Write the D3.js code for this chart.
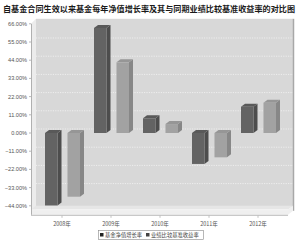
<!DOCTYPE html>
<html><head><meta charset="utf-8">
<script src="https://cdn.jsdelivr.net/npm/d3@7"></script>
<style>html,body{margin:0;padding:0;background:#fff;}svg{display:block;}</style>
</head><body>
<script>
const title = "自基金合同生效以来基金每年净值增长率及其与同期业绩比较基准收益率的对比图";
const categories = ["2008年", "2009年", "2010年", "2011年", "2012年"];
const seriesNames = ["基金净值增长率", "业绩比较基准收益率"];
const fundGrowth = [-43.8, 63.5, 8.9, -18.7, 15.9];
const benchmarkReturn = [-38.5, 42.7, 5.4, -14.7, 18.3];
const yTicks = [66, 55, 44, 33, 22, 11, 0, -11, -22, -33, -44];

(function () {
const W = 300, H = 244;
const svg = d3.select("body").append("svg").attr("width", W).attr("height", H);

const dx = 4, dy = -3;       // bar depth
const wx = 5, wy = -4;       // wall depth offset
const axisX = 31;

const y = d3.scaleLinear().domain([-44, 66]).range([205.8, 23.8]);
const x0 = d3.scaleBand().domain(categories).range([37.5, 282.5]);
const x1 = d3.scaleBand().domain([0, 1]).range([7.5, 42.5]).paddingInner(0.444);

// title
svg.append("text").attr("x", 3).attr("y", 12)
  .attr("font-family", "'Noto Sans CJK SC', sans-serif").attr("font-weight", "bold")
  .attr("font-size", 8).attr("fill", "#1a1a1a")
  .attr("textLength", 292).attr("lengthAdjust", "spacingAndGlyphs")
  .text(title);

const yTop = y(66), yBot = y(-44);
const right = 288;
// back wall
svg.append("rect").attr("x", axisX + wx).attr("y", yTop + wy - 1)
  .attr("width", right - axisX).attr("height", yBot - yTop + 6)
  .attr("fill", "#d8d8d8");
svg.append("line").attr("x1", right + wx + 0.5).attr("x2", right + wx + 0.5)
  .attr("y1", yTop + wy - 1).attr("y2", yBot + 5).attr("stroke", "#a8a8a8").attr("stroke-width", 1.5);
// left side wall
svg.append("polygon").attr("points", [
  [axisX, yTop], [axisX + wx, yTop + wy - 1], [axisX + wx, yBot + 5], [axisX, yBot + 9]
].join(" ")).attr("fill", "#ececec");
// floor
svg.append("polygon").attr("points", [
  [axisX, yBot + 4], [axisX + wx, yBot], [right + wx, yBot], [right, yBot + 4]
].join(" ")).attr("fill", "#e6e6e6");
svg.append("polygon").attr("points", [
  [axisX, yBot + 4], [right, yBot + 4], [right + wx, yBot], [right + wx, yBot + 5], [right, yBot + 9], [axisX, yBot + 9]
].join(" ")).attr("fill", "#efefef");
svg.append("line").attr("x1", axisX).attr("x2", right).attr("y1", yBot + 9.5).attr("y2", yBot + 9.5)
  .attr("stroke", "#bbb").attr("stroke-width", 1);
svg.append("line").attr("x1", axisX).attr("x2", right).attr("y1", yBot + 4).attr("y2", yBot + 4)
  .attr("stroke", "#f8f8f8").attr("stroke-width", 0.6);

// gridlines on back wall
svg.append("g").selectAll("line").data(yTicks.filter(t => t !== -44 && t !== 66)).join("line")
  .attr("x1", axisX + wx).attr("x2", right + wx)
  .attr("y1", d => y(d) + wy).attr("y2", d => y(d) + wy)
  .attr("stroke", "#f4f4f4").attr("stroke-width", 0.8).attr("stroke-dasharray", "1.2,1.2");

// y axis
svg.append("line").attr("x1", axisX + 0.5).attr("x2", axisX + 0.5).attr("y1", yTop).attr("y2", yBot + 9)
  .attr("stroke", "#b0b0b0").attr("stroke-width", 1);
const yAxis = svg.append("g");
yAxis.selectAll("line").data(yTicks).join("line")
  .attr("x1", axisX - 2).attr("x2", axisX).attr("y1", d => y(d)).attr("y2", d => y(d))
  .attr("stroke", "#888").attr("stroke-width", 0.6);
yAxis.selectAll("text").data(yTicks).join("text")
  .attr("x", 27).attr("y", d => y(d) + 2)
  .attr("text-anchor", "end").attr("font-family", "'Liberation Sans', sans-serif")
  .attr("font-size", 5.6).attr("fill", "#555")
  .text(d => d3.format(".2f")(d) + "%");

// x axis labels and ticks
const xg = svg.append("g");
xg.selectAll("line").data(categories).join("line")
  .attr("x1", d => x0(d) + x0.bandwidth() / 2).attr("x2", d => x0(d) + x0.bandwidth() / 2)
  .attr("y1", yBot + 10).attr("y2", yBot + 12).attr("stroke", "#999").attr("stroke-width", 0.6);
xg.selectAll("text").data(categories).join("text")
  .attr("x", d => x0(d) + x0.bandwidth() / 2).attr("y", 226)
  .attr("text-anchor", "middle").attr("font-family", "'Noto Sans CJK SC', sans-serif")
  .attr("font-size", 5.5).attr("fill", "#555").text(d => d);

// bars
const palettes = [
  { front: "#636363", side: "#4d4d4d", top: "#595959" },
  { front: "#a2a2a2", side: "#878787", top: "#969696" }
];
const rows = [];
categories.forEach((c, i) => {
  [fundGrowth[i], benchmarkReturn[i]].forEach((v, s) => rows.push({ c, s, v }));
});
const bars = svg.append("g").selectAll("g").data(rows).join("g");
function geom(d) {
  const xl = x0(d.c) + x1(d.s), w = x1.bandwidth();
  const yt = Math.min(y(d.v), y(0)), yb = Math.max(y(d.v), y(0));
  return { xl, w, yt, yb };
}
bars.append("polygon").attr("points", d => {
  const g = geom(d);
  return [[g.xl + g.w, g.yt], [g.xl + g.w + dx, g.yt + dy], [g.xl + g.w + dx, g.yb + dy], [g.xl + g.w, g.yb]].join(" ");
}).attr("fill", d => palettes[d.s].side);
bars.append("polygon").attr("points", d => {
  const g = geom(d);
  return [[g.xl, g.yt], [g.xl + dx, g.yt + dy], [g.xl + g.w + dx, g.yt + dy], [g.xl + g.w, g.yt]].join(" ");
}).attr("fill", d => palettes[d.s].top);
bars.append("rect").attr("x", d => geom(d).xl).attr("y", d => geom(d).yt)
  .attr("width", d => geom(d).w).attr("height", d => geom(d).yb - geom(d).yt)
  .attr("fill", d => palettes[d.s].front);

// legend
const lg = svg.append("g");
lg.append("rect").attr("x", 98.5).attr("y", 230.5).attr("width", 105).attr("height", 9)
  .attr("fill", "#fff").attr("stroke", "#888").attr("stroke-width", 0.6);
const legendItems = [
  { name: seriesNames[0], x: 100, color: "#222" },
  { name: seriesNames[1], x: 146, color: "#444" }
];
legendItems.forEach(it => {
  lg.append("rect").attr("x", it.x).attr("y", 233).attr("width", 3.5).attr("height", 3.5).attr("fill", it.color);
  lg.append("text").attr("x", it.x + 5).attr("y", 237)
    .attr("font-family", "'Noto Sans CJK SC', sans-serif").attr("font-size", 5.3).attr("fill", "#444")
    .text(it.name);
});
})();
</script>
</body></html>
